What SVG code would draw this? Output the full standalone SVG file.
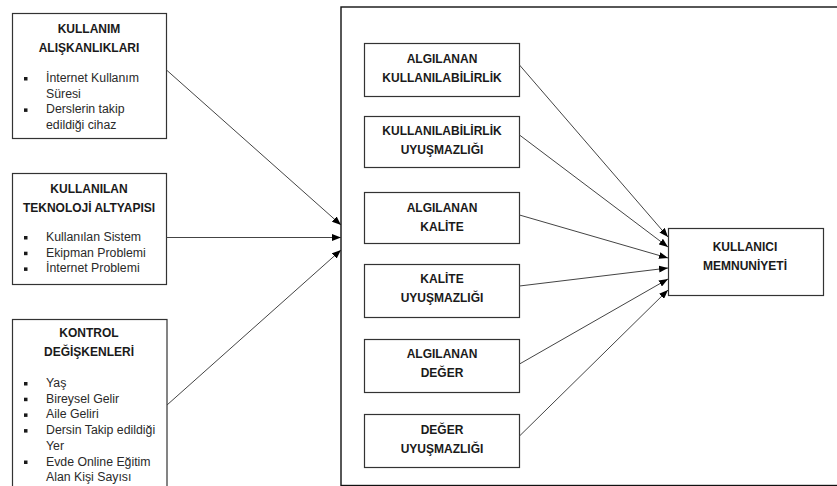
<svg xmlns="http://www.w3.org/2000/svg" width="837" height="486" viewBox="0 0 837 486">
<style>
  .box{fill:#fff;stroke:#333;stroke-width:1.2}
  .frame{fill:none;stroke:#111;stroke-width:1.4}
  .t{font-family:"Liberation Sans",Arial,sans-serif;font-weight:bold;font-size:12px;fill:#1a1a1a;text-anchor:middle}
  .b{font-family:"Liberation Sans",Arial,sans-serif;font-size:12.3px;fill:#2a2a2a}
  .sq{fill:#1a1a1a}
  .c{stroke:#444;stroke-width:1;fill:none;marker-end:url(#ah)}
</style>
<defs>
  <marker id="ah" markerUnits="userSpaceOnUse" markerWidth="9" markerHeight="7" refX="9" refY="3.5" orient="auto">
    <path d="M0,0 L9,3.5 L0,7 z" fill="#000"/>
  </marker>
</defs>
<rect width="837" height="486" fill="#fff"/>

<g id="frame"><rect class="frame" x="341" y="7" width="520" height="478.5"/></g>

<g id="n1">
  <rect class="box" x="12.5" y="13.5" width="154" height="125"/>
  <text class="t" x="89" y="33">KULLANIM</text>
  <text class="t" x="89" y="52">ALIŞKANLIKLARI</text>
  <rect class="sq" x="24" y="77" width="3.5" height="3.5"/>
  <text class="b" x="46" y="82">İnternet Kullanım</text>
  <text class="b" x="46" y="97.7">Süresi</text>
  <rect class="sq" x="24" y="108.4" width="3.5" height="3.5"/>
  <text class="b" x="46" y="113.4">Derslerin takip</text>
  <text class="b" x="46" y="129">edildiği cihaz</text>
</g>

<g id="n2">
  <rect class="box" x="12.5" y="173.5" width="154" height="111"/>
  <text class="t" x="89" y="193">KULLANILAN</text>
  <text class="t" x="89" y="212">TEKNOLOJİ ALTYAPISI</text>
  <rect class="sq" x="24" y="236" width="3.5" height="3.5"/>
  <text class="b" x="46" y="241">Kullanılan Sistem</text>
  <rect class="sq" x="24" y="251.7" width="3.5" height="3.5"/>
  <text class="b" x="46" y="256.7">Ekipman Problemi</text>
  <rect class="sq" x="24" y="267.4" width="3.5" height="3.5"/>
  <text class="b" x="46" y="272.4">İnternet Problemi</text>
</g>

<g id="n3">
  <rect class="box" x="12.5" y="319.5" width="154.5" height="180"/>
  <text class="t" x="89" y="337">KONTROL</text>
  <text class="t" x="89" y="356">DEĞİŞKENLERİ</text>
  <rect class="sq" x="24" y="382" width="3.5" height="3.5"/>
  <text class="b" x="46" y="387">Yaş</text>
  <rect class="sq" x="24" y="397.7" width="3.5" height="3.5"/>
  <text class="b" x="46" y="402.7">Bireysel Gelir</text>
  <rect class="sq" x="24" y="413.4" width="3.5" height="3.5"/>
  <text class="b" x="46" y="418.4">Aile Geliri</text>
  <rect class="sq" x="24" y="429.1" width="3.5" height="3.5"/>
  <text class="b" x="46" y="434.1">Dersin Takip edildiği</text>
  <text class="b" x="46" y="449.8">Yer</text>
  <rect class="sq" x="24" y="460.5" width="3.5" height="3.5"/>
  <text class="b" x="46" y="465.5">Evde Online Eğitim</text>
  <text class="b" x="46" y="481.2">Alan Kişi Sayısı</text>
</g>

<g id="a1">
  <rect class="box" x="364.5" y="43.5" width="155" height="53"/>
  <text class="t" x="442" y="63">ALGILANAN</text>
  <text class="t" x="442" y="82">KULLANILABİLİRLİK</text>
</g>
<g id="a2">
  <rect class="box" x="364.5" y="116.5" width="155" height="51"/>
  <text class="t" x="442" y="135">KULLANILABİLİRLİK</text>
  <text class="t" x="442" y="154">UYUŞMAZLIĞI</text>
</g>
<g id="a3">
  <rect class="box" x="364.5" y="192.5" width="155" height="51"/>
  <text class="t" x="442" y="212">ALGILANAN</text>
  <text class="t" x="442" y="231">KALİTE</text>
</g>
<g id="a4">
  <rect class="box" x="364.5" y="264.5" width="155" height="53"/>
  <text class="t" x="442" y="283">KALİTE</text>
  <text class="t" x="442" y="302">UYUŞMAZLIĞI</text>
</g>
<g id="a5">
  <rect class="box" x="364.5" y="339.5" width="155" height="53"/>
  <text class="t" x="442" y="358">ALGILANAN</text>
  <text class="t" x="442" y="377">DEĞER</text>
</g>
<g id="a6">
  <rect class="box" x="364.5" y="414.5" width="155" height="53"/>
  <text class="t" x="442" y="434">DEĞER</text>
  <text class="t" x="442" y="453">UYUŞMAZLIĞI</text>
</g>

<g id="target">
  <rect class="box" x="668.5" y="228.5" width="155" height="67"/>
  <text class="t" x="745" y="251">KULLANICI</text>
  <text class="t" x="745" y="270">MEMNUNİYETİ</text>
</g>

<g id="connectors">
  <line class="c" x1="166.5" y1="70" x2="341" y2="225"/>
  <line class="c" x1="166.5" y1="237.5" x2="341" y2="237.5"/>
  <line class="c" x1="167" y1="405" x2="341" y2="250"/>
  <line class="c" x1="519.5" y1="65" x2="668" y2="237"/>
  <line class="c" x1="519.5" y1="135" x2="668" y2="247"/>
  <line class="c" x1="519.5" y1="215" x2="668" y2="258"/>
  <line class="c" x1="519.5" y1="286" x2="668" y2="268"/>
  <line class="c" x1="519.5" y1="364" x2="668" y2="279"/>
  <line class="c" x1="519.5" y1="436" x2="668" y2="290"/>
</g>
</svg>
